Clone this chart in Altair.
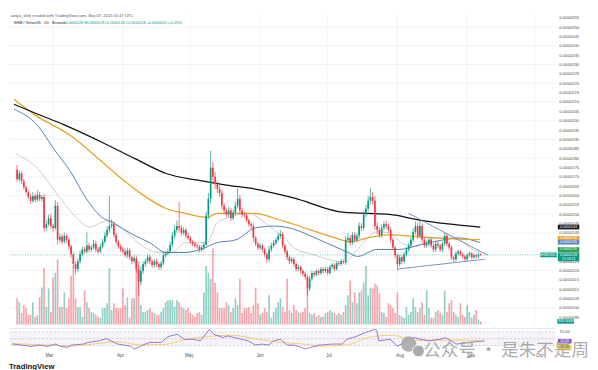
import altair as alt
import pandas as pd

FONT = "Liberation Sans"
UP = "#089981"
DOWN = "#f23645"
W, H, RH = 560, 319, 21

# ---------------- data (price in units of 1e-7 USDT, day = days since 2025-03-01) ----------
START_DAY = -16
first_open = 173.9
closes = [
    168.7, 171.8, 167.7, 164.5, 161.9, 159.3, 157.2, 159.8, 157.8, 160.4,
    158.3, 159.3, 142.7, 144.7, 147.9, 143.7, 142.7, 154.6, 136.4, 138.0,
    135.4, 138.5, 136.4, 132.8, 128.6, 123.4, 120.8, 124.9, 128.6, 131.2,
    130.2, 133.3, 131.2, 132.3, 134.3, 131.2, 130.2, 132.8, 135.4, 138.5,
    141.6, 143.7, 144.7, 139.0, 135.4, 132.8, 131.2, 130.2, 128.1, 130.7,
    127.0, 124.9, 126.5, 120.8, 114.0, 119.7, 123.4, 124.9, 127.0, 124.9,
    122.9, 124.9, 123.4, 121.8, 123.9, 128.1, 129.1, 130.2, 133.8, 138.5,
    141.6, 143.7, 142.7, 140.1, 141.6, 138.5, 137.4, 135.4, 134.3, 133.3,
    132.8, 131.2, 132.3, 133.8, 149.4, 158.3, 174.9, 170.0, 166.0, 163.5,
    161.4, 154.6, 152.0, 149.9, 152.0, 147.9, 151.0, 154.6, 158.3, 152.0,
    149.9, 149.4, 146.8, 144.7, 143.7, 137.4, 134.3, 132.3, 133.3, 131.2,
    128.6, 126.0, 131.2, 133.3, 134.8, 136.4, 138.5, 139.5, 133.3, 130.2,
    127.0, 124.9, 126.0, 123.4, 120.8, 121.8, 119.7, 118.2, 116.6, 110.4,
    115.6, 118.7, 117.7, 119.7, 118.7, 120.8, 119.7, 120.8, 118.7, 121.8,
    122.9, 120.8, 123.9, 123.4, 124.9, 124.4, 136.4, 137.4, 134.8, 139.0,
    136.4, 138.5, 143.7, 142.7, 149.9, 153.1, 157.2, 159.3, 157.2, 143.7,
    141.6, 139.0, 142.7, 144.7, 143.7, 141.6, 136.4, 132.3, 128.1, 123.4,
    127.0, 124.9, 128.6, 131.2, 133.3, 136.4, 140.6, 143.7, 138.5, 143.7,
    136.4, 133.3, 134.3, 136.4, 133.3, 131.2, 134.3, 133.3, 131.2, 134.3,
    138.5, 134.3, 132.3, 127.0, 126.0, 129.1, 130.2, 128.6, 127.5, 126.0,
    128.1, 129.1, 127.0, 128.1, 127.5, 128.6, 128.3,
]
upper_wick = [
    2.5, 1.5, 1.0, 1.2, 0.8, 1.0, 1.5, 2.0, 1.2, 2.5,
    1.5, 1.0, 1.5, 2.0, 1.8, 2.5, 1.2, 3.0, 2.0, 1.5,
    1.5, 1.8, 1.2, 1.0, 1.0, 1.2, 1.5, 1.5, 2.0, 1.5,
    1.5, 7.0, 1.5, 1.2, 2.0, 1.5, 1.2, 1.5, 1.5, 1.8,
    2.0, 16.0, 2.5, 1.5, 1.2, 1.0, 1.2, 1.5, 1.5, 1.5,
    1.2, 1.0, 1.5, 1.5, 2.0, 2.5, 1.5, 1.5, 1.5, 1.2,
    1.0, 1.2, 1.5, 1.0, 1.2, 1.5, 1.2, 1.5, 1.5, 2.0,
    2.5, 3.0, 13.0, 1.5, 1.5, 1.2, 1.5, 1.0, 1.0, 1.2,
    1.0, 1.0, 1.2, 1.5, 2.0, 3.0, 9.0, 3.0, 2.5, 2.0,
    2.0, 1.5, 1.5, 1.2, 2.0, 1.5, 1.5, 2.0, 5.5, 2.0,
    1.5, 1.2, 1.2, 1.0, 1.2, 1.5, 1.0, 1.0, 1.2, 1.0,
    1.0, 1.2, 2.0, 1.5, 1.5, 1.2, 1.5, 2.0, 1.2, 1.0,
    1.0, 1.0, 1.2, 1.0, 1.0, 1.2, 1.0, 1.0, 1.2, 1.5,
    1.5, 1.2, 1.0, 1.0, 1.2, 1.0, 1.0, 1.2, 1.0, 1.0,
    1.2, 1.0, 1.0, 1.0, 1.2, 1.0, 2.0, 2.5, 1.5, 1.5,
    1.5, 1.5, 2.0, 1.5, 2.0, 2.0, 2.5, 4.5, 2.5, 2.5,
    2.0, 1.5, 2.0, 1.5, 2.0, 1.5, 1.5, 1.2, 1.0, 1.0,
    1.5, 1.2, 1.2, 1.5, 1.5, 1.5, 2.0, 2.5, 2.0, 2.5,
    1.5, 1.2, 1.5, 1.2, 1.5, 1.2, 1.5, 1.2, 1.0, 1.2,
    1.6, 1.5, 1.2, 1.0, 1.0, 1.2, 1.0, 1.0, 1.0, 1.0,
    1.0, 1.0, 0.8, 1.0, 0.8, 0.8, 0.6,
]
lower_wick = [
    1.5, 1.2, 1.5, 1.2, 1.0, 1.2, 1.5, 1.0, 1.5, 1.0,
    1.2, 1.5, 2.0, 1.5, 1.2, 1.5, 2.0, 1.0, 2.5, 1.5,
    1.5, 1.2, 1.5, 1.5, 2.0, 2.0, 3.0, 1.5, 1.2, 1.0,
    1.2, 1.0, 1.5, 1.0, 1.2, 1.5, 1.2, 1.0, 1.0, 1.0,
    1.0, 1.5, 1.2, 1.5, 1.5, 1.2, 1.2, 1.5, 1.2, 1.5,
    1.5, 1.5, 1.2, 2.0, 7.3, 2.0, 1.5, 1.5, 1.2, 1.5,
    1.5, 1.2, 1.5, 1.5, 1.2, 1.0, 1.2, 1.0, 1.0, 1.2,
    1.5, 1.5, 2.0, 1.5, 1.2, 1.5, 1.2, 1.2, 1.5, 1.2,
    1.2, 1.5, 1.2, 1.5, 1.0, 2.0, 2.5, 3.0, 2.5, 2.0,
    2.0, 2.0, 1.5, 1.5, 1.5, 1.5, 1.2, 1.5, 1.5, 2.0,
    1.5, 1.5, 1.2, 1.2, 1.5, 2.0, 1.5, 1.5, 1.2, 1.5,
    1.5, 2.0, 1.2, 1.2, 1.0, 1.2, 1.2, 1.5, 1.5, 1.5,
    1.5, 1.5, 1.2, 1.5, 1.5, 1.2, 1.5, 1.5, 1.5, 3.6,
    1.5, 1.2, 1.2, 1.0, 1.2, 1.0, 1.2, 1.0, 1.2, 1.0,
    1.0, 1.2, 1.0, 1.0, 1.0, 1.0, 1.5, 1.5, 1.5, 1.2,
    1.5, 1.2, 1.5, 1.5, 1.2, 1.5, 1.5, 2.0, 2.0, 2.0,
    2.0, 1.5, 1.5, 1.2, 1.5, 1.5, 1.5, 1.5, 1.5, 3.6,
    1.5, 1.5, 1.2, 1.2, 1.2, 1.0, 1.2, 1.5, 1.5, 1.5,
    1.5, 1.2, 1.2, 1.5, 1.2, 1.5, 1.2, 1.2, 1.2, 1.2,
    1.2, 1.5, 1.5, 1.5, 1.5, 1.2, 1.2, 1.0, 1.0, 1.2,
    1.0, 1.0, 1.0, 0.8, 1.0, 0.8, 0.6,
]
# volume in trillions of SHIB
volume_t = [
    2.7, 2.3, 1.2, 2.0, 1.7, 1.0, 1.0, 2.3, 0.8, 1.0,
    2.8, 3.8, 5.8, 1.8, 3.7, 1.3, 4.8, 5.3, 6.7, 1.8,
    1.8, 3.3, 1.7, 2.7, 5.0, 6.0, 2.7, 1.8, 1.8, 0.8,
    3.5, 2.3, 1.7, 1.3, 1.2, 1.0, 0.8, 0.7, 1.7, 1.7,
    2.2, 5.8, 1.5, 2.2, 1.7, 1.7, 1.7, 3.7, 2.0, 2.8,
    0.7, 2.7, 2.7, 6.5, 6.5, 2.0, 1.3, 1.3, 1.5, 1.7,
    1.3, 1.2, 1.0, 1.0, 1.3, 1.7, 2.3, 2.5, 2.5, 2.5,
    1.8, 2.5, 2.3, 1.8, 1.7, 1.5, 1.7, 1.2, 1.0, 0.8,
    1.2, 1.3, 1.0, 3.3, 6.0, 5.3, 4.7, 7.8, 4.3, 3.3,
    1.7, 1.7, 1.7, 2.3, 2.0, 1.3, 1.7, 2.7, 2.0, 4.7,
    1.2, 1.7, 1.7, 1.8, 1.2, 2.0, 3.8, 2.2, 1.0, 1.2,
    1.7, 1.3, 3.0, 0.7, 1.3, 1.7, 2.3, 2.7, 1.8, 1.3,
    4.7, 1.5, 1.2,
    2.0, 1.5, 1.3, 1.2, 1.3, 1.7, 3.7, 1.2, 1.0, 1.2,
    0.8, 1.0, 0.8, 0.8, 1.2, 1.3, 1.5, 1.3, 1.2, 1.0,
    1.2, 1.0, 1.3, 2.0, 3.0, 4.5, 2.3, 3.3, 2.2, 3.3,
    3.5, 4.3, 6.0, 3.0, 3.8, 3.7, 4.2, 4.0, 3.2, 1.3,
    1.2, 0.8, 2.2, 2.0, 1.7, 1.2, 3.3, 1.0, 0.8, 0.7,
    1.8, 1.0, 1.3, 2.7, 1.8, 1.3, 1.7, 2.3, 1.0, 3.5,
    1.7, 0.7, 0.7, 1.3, 1.5, 1.2, 1.0, 3.5, 1.3, 2.2,
    2.5, 1.3, 1.0, 0.8, 2.2, 1.0, 0.8, 2.0, 1.3, 0.7,
    1.0, 1.5, 0.5, 0.3339,
]

# moving averages (control points)
ma200_d = [-17.4, -8.1, 4.7, 21.7, 36.6, 50.2, 64.3, 77.0, 89.8, 106.8, 129.4, 149.4, 163.4, 189.8]
ma200_p = [208.8, 204.1, 197.9, 188.5, 179.6, 171.8, 168.2, 165.6, 163.5, 158.8, 151.0, 149.9, 146.8, 143.2]
ma100_d = [-17.4, -8.1, 7.7, 21.7, 30.2, 38.7, 50.2, 58.7, 68.5, 72.8, 81.3, 89.8, 98.3, 106.8,
           128.1, 131.1, 142.1, 149.4, 163.4, 177.9, 189.8]
ma100_p = [211.4, 203.1, 192.1, 178.1, 169.2, 161.4, 153.1, 150.5, 148.4, 150.5, 150.5, 150.5, 147.9, 144.7,
           136.4, 135.4, 138.0, 139.0, 138.0, 136.9, 136.5]
ma50_d = [-17.4, -6.8, 0.4, 7.7, 14.5, 21.7, 26.0, 35.7, 43.0, 50.2, 58.7, 65.5, 72.8, 81.3, 89.8,
          98.3, 106.8, 115.3, 131.1, 135.3, 143.8, 153.6, 163.4, 173.6, 180.4, 189.8]
ma50_p = [206.2, 197.3, 184.8, 172.9, 158.8, 148.4, 145.8, 139.0, 134.8, 129.6, 129.6, 131.2, 134.8, 136.4, 142.7,
          143.7, 142.1, 138.0, 129.6, 127.5, 131.2, 131.2, 133.8, 136.4, 137.4, 134.8]
ma20_d = [-16.6, -6.8, 1.7, 10.2, 16.2, 24.7, 31.5, 40.0, 47.2, 52.8, 58.7, 68.5, 72.8, 78.3, 86.8, 92.8,
          98.3, 103.8, 106.8, 115.3, 129.4, 135.3, 143.8, 149.4, 154.9, 160.9, 167.7, 174.9, 180.4, 186.4, 189.8]
ma20_p = [182.2, 174.4, 160.9, 148.4, 143.2, 146.8, 141.6, 132.8, 129.6, 129.6, 134.8, 134.8, 145.3, 148.4, 150.5, 146.8,
          141.6, 136.4, 132.2, 128.6, 124.4, 131.2, 140.6, 140.1, 134.8, 132.8, 136.4, 138.0, 136.4, 131.2, 129.6]

# drawn triangle
tl_upper_d = [157.9, 193.2]
tl_upper_p = [150.5, 128.1]
tl_lower_d = [153.2, 191.9]
tl_lower_p = [120.8, 126.0]

# RSI pane
rsi_d = [-16, -12, -8, -4, -1, 3, 5, 8, 10, 15, 17, 22, 25, 27, 30, 33, 36, 37, 39, 42, 44, 49, 52, 56, 59,
         63, 66, 68, 70, 72, 76, 78, 81, 84, 87, 90, 93, 96, 98, 101, 104, 107, 112, 118, 124, 128, 130, 134,
         138, 142, 143, 144, 149, 152, 155, 159, 162, 166, 171, 173, 178, 183, 190]
rsi_v = [34.3, 31.4, 27.6, 31.4, 27.6, 34.3, 27.6, 24.8, 31.4, 34.3, 39.0, 43.8, 50.5, 43.8, 34.3, 31.4, 27.6,
         20.0, 24.8, 34.3, 39.0, 39.0, 56.2, 62.9, 48.6, 48.6, 43.8, 60.0, 77.1, 62.9, 53.3, 58.1, 53.3, 48.6,
         43.8, 31.4, 34.3, 31.4, 43.8, 48.6, 31.4, 31.4, 20.0, 31.4, 34.3, 34.3, 48.6, 56.2, 67.6, 77.1, 75.0,
         43.8, 48.6, 27.6, 39.0, 53.3, 48.6, 43.8, 48.6, 53.3, 34.3, 39.0, 43.8]
rsi_ma_d = [-16, 0, 10, 20, 30, 40, 50, 60, 70, 80, 90, 100, 110, 120, 130, 140, 150, 160, 170, 180, 190]
rsi_ma_v = [36, 31, 29, 35, 41, 32, 33, 48, 57, 60, 50, 40, 35, 28, 32, 55, 60, 45, 46, 46, 42]

month_days = [0, 31, 61, 92, 122, 153, 184, 214]
month_names = ["Mar", "Apr", "May", "Jun", "Jul", "Aug", "Sep", "Oct"]
price_ticks = list(range(95, 256, 5))
grid_ticks = list(range(100, 251, 10))

header1 = "antyu_shib created with TradingView.com, Sep 07, 2025 10:47 UTC"
header2a = "SHIB / TetherUS \u00b7 1D \u00b7 Binance"
header2b = "O0.0000128  H0.0000129  L0.0000126  C0.0000128  +0.0000001 (+0.55%)"

# ---------------- frame ----------------
n = len(closes)
days = list(range(START_DAY, START_DAY + n))
opens = [first_open] + closes[:-1]
df = pd.DataFrame({
    "d": days,
    "open": opens,
    "close": closes,
    "high": [max(o, c) + u for o, c, u in zip(opens, closes, upper_wick)],
    "low": [min(o, c) - l for o, c, l in zip(opens, closes, lower_wick)],
    "vol": volume_t,
})
df["dir"] = ["up" if c >= o else "down" for o, c in zip(opens, closes)]

xs = alt.Scale(domain=[-17.44, 220.81], nice=False, zero=False)
ps = alt.Scale(domain=[91.1, 257.2], nice=False, zero=False)
vs = alt.Scale(domain=[0, 31.9], nice=False, zero=False)
rs = alt.Scale(domain=[20, 80], nice=False, zero=False)

X_none = alt.X("d:Q", scale=xs, axis=None)
color_dir = alt.Color("dir:N", scale=alt.Scale(domain=["up", "down"], range=[UP, DOWN]), legend=None)

price_axis = alt.Axis(orient="right", values=price_ticks,
                      labelExpr="format(datum.value / 1e7, '.7f')",
                      labelFont=FONT, labelFontSize=4.3, labelColor="#4a4d57", labelPadding=4,
                      ticks=False, domain=False, grid=False, title=None,
                      labelOverlap=False, labelFlush=False)


def box_shape(w, h=4.8):
    r = h / w
    return f"M-1,-{r:.3f}L1,-{r:.3f}L1,{r:.3f}L-1,{r:.3f}Z"


def tag(value, text, bg, xc, w, field, scale, fg="white"):
    d = pd.DataFrame({field: [value], "t": [text]})
    y = alt.Y(f"{field}:Q", scale=scale, axis=None)
    box = alt.Chart(d).mark_point(shape=box_shape(w), size=w * w, filled=True, color=bg,
                                  opacity=1, strokeWidth=0).encode(x=alt.value(xc), y=y)
    txt = alt.Chart(d).mark_text(font=FONT, fontSize=3.7, color=fg, align="center",
                                 baseline="middle").encode(x=alt.value(xc), y=y, text="t:N")
    return box + txt


def vtag(text, bg, xc, yc, w, fg="white"):
    d = pd.DataFrame({"t": [text]})
    box = alt.Chart(d).mark_point(shape=box_shape(w), size=w * w, filled=True, color=bg,
                                  opacity=1, strokeWidth=0).encode(x=alt.value(xc), y=alt.value(yc))
    txt = alt.Chart(d).mark_text(font=FONT, fontSize=3.7, color=fg, align="center",
                                 baseline="middle").encode(x=alt.value(xc), y=alt.value(yc), text="t:N")
    return box + txt


def pfmt(p):
    return f"{p / 1e7:.7f}"


# ---------------- main pane ----------------
hgrid = alt.Chart(pd.DataFrame({"p": grid_ticks})).mark_rule(color="#e9ecf2", strokeWidth=0.7).encode(
    y=alt.Y("p:Q", scale=ps, axis=price_axis))
vgrid = alt.Chart(pd.DataFrame({"d": month_days})).mark_rule(color="#eef0f4", strokeWidth=0.7).encode(x=X_none)
grid_layer = alt.layer(hgrid, vgrid)

vol_bars = alt.Chart(df).mark_bar(size=1.7, opacity=0.45).encode(
    x=X_none, y=alt.Y("vol:Q", scale=vs, axis=None), color=color_dir)
vol_tag = tag(volume_t[-1], f"{volume_t[-1] * 1000:.3f}B", UP, 571, 17, "vol", vs)
vol_layer = alt.layer(vol_bars, vol_tag)


def ma_line(ds, pvals, color, width):
    return alt.Chart(pd.DataFrame({"d": ds, "p": pvals})).mark_line(
        color=color, strokeWidth=width, interpolate="monotone").encode(
        x=X_none, y=alt.Y("p:Q", scale=ps, axis=None))


def seg(ds, pvals, color, width):
    return alt.Chart(pd.DataFrame({"d": ds, "p": pvals})).mark_line(
        color=color, strokeWidth=width).encode(x=X_none, y=alt.Y("p:Q", scale=ps, axis=None))


ma20 = ma_line(ma20_d, ma20_p, "#b8b8b8", 0.7)
ma50 = ma_line(ma50_d, ma50_p, "#4f7fb8", 1.0)
ma100 = ma_line(ma100_d, ma100_p, "#e9a227", 1.3)
ma200 = ma_line(ma200_d, ma200_p, "#111111", 1.3)

wicks = alt.Chart(df).mark_rule(strokeWidth=0.7).encode(
    x=X_none, y=alt.Y("low:Q", scale=ps, axis=None), y2="high:Q", color=color_dir)
bodies = alt.Chart(df).mark_bar(size=1.7).encode(
    x=X_none, y=alt.Y("open:Q", scale=ps, axis=None), y2="close:Q", color=color_dir)

tl_up = seg(tl_upper_d, tl_upper_p, "#6a84b8", 0.9)
tl_lo = seg(tl_lower_d, tl_lower_p, "#6a84b8", 0.9)

last = closes[-1]
price_line = alt.Chart(pd.DataFrame({"p": [last]})).mark_rule(
    color=UP, strokeWidth=0.6, strokeDash=[1, 1.5]).encode(y=alt.Y("p:Q", scale=ps, axis=None))

hdr = pd.DataFrame({"t": [header1]})
h1 = alt.Chart(hdr).mark_text(font=FONT, fontSize=4.2, color="#555555", align="left",
                              baseline="middle").encode(x=alt.value(2), y=alt.value(3), text="t:N")
h2a = alt.Chart(pd.DataFrame({"t": [header2a]})).mark_text(
    font=FONT, fontSize=3.8, color="#131722", align="left", baseline="middle").encode(
    x=alt.value(5), y=alt.value(9.5), text="t:N")
h2b = alt.Chart(pd.DataFrame({"t": [header2b]})).mark_text(
    font=FONT, fontSize=3.8, color=UP, align="left", baseline="middle").encode(
    x=alt.value(55), y=alt.value(9.5), text="t:N")

XT = 574
tags = [
    tag(ma200_p[-1], pfmt(ma200_p[-1]), "#131722", XT, 22, "p", ps),
    tag(137.2, pfmt(ma100_p[-1]), "#eea12a", XT, 22, "p", ps),
    tag(135.1, pfmt(ma50_p[-1]), "#5a86c8", XT, 22, "p", ps),
    tag(131.2, pfmt(ma20_p[-1]), "#1f9d4c", XT, 22, "p", ps),
    tag(last, pfmt(last), UP, XT, 22, "p", ps),
    tag(126.2, "15:16:11", UP, XT, 22, "p", ps),
    tag(last, "SHIBUSDT", UP, 553.5, 17, "p", ps),
]

price_layer = alt.layer(ma20, ma50, ma100, ma200, wicks, bodies, tl_up, tl_lo, price_line,
                        h1, h2a, h2b, *tags)

main = alt.layer(grid_layer, vol_layer, price_layer).resolve_scale(y="independent").properties(
    width=W, height=H)

# ---------------- RSI pane ----------------
label_expr = "".join(f"datum.value == {d} ? '{m}' : " for d, m in zip(month_days, month_names)) + "''"
x_axis = alt.Axis(values=month_days, labelExpr=label_expr, labelFont=FONT, labelFontSize=4.6,
                  labelColor="#4a4d57", labelPadding=3.5, ticks=False, domain=False, grid=False,
                  title=None, labelFlush=False, labelOverlap=False, labelAlign="center")
rsi_axis = alt.Axis(orient="right", values=[70], labelExpr="format(datum.value, '.2f')", labelFont=FONT,
                    labelFontSize=4.3, labelColor="#4a4d57", labelPadding=4, ticks=False, domain=False,
                    grid=False, title=None, labelFlush=False)
X_r = alt.X("d:Q", scale=xs, axis=x_axis)

band = alt.Chart(pd.DataFrame({"lo": [30], "hi": [70]})).mark_rect(color="#7e57c2", opacity=0.08).encode(
    y=alt.Y("lo:Q", scale=rs, axis=rsi_axis), y2="hi:Q", x=alt.value(0), x2=alt.value(W))
levels = alt.Chart(pd.DataFrame({"v": [70, 50, 30]})).mark_rule(
    color="#a3a6af", strokeWidth=0.5, strokeDash=[2, 2]).encode(y=alt.Y("v:Q", scale=rs, axis=rsi_axis))
r_vgrid = alt.Chart(pd.DataFrame({"d": month_days})).mark_rule(color="#eef0f4", strokeWidth=0.7).encode(x=X_r)
rsi_ma = alt.Chart(pd.DataFrame({"d": rsi_ma_d, "v": rsi_ma_v})).mark_line(
    color="#f2c230", strokeWidth=0.7, interpolate="monotone").encode(
    x=X_r, y=alt.Y("v:Q", scale=rs, axis=rsi_axis))
rsi_line = alt.Chart(pd.DataFrame({"d": rsi_d, "v": rsi_v})).mark_line(
    color="#7e57c2", strokeWidth=0.8).encode(x=X_r, y=alt.Y("v:Q", scale=rs, axis=rsi_axis))
sep = alt.Chart(pd.DataFrame({"a": [0]})).mark_rule(color="#d1d4dc", strokeWidth=0.6).encode(y=alt.value(0))

rsi_tag = vtag(f"{rsi_v[-1]:.2f}", "#7e57c2", 570, 13, 14)
rsima_tag = vtag(f"{rsi_ma_v[-1]:.2f}", "#f5d33a", 570, 19, 14, fg="#131722")

icon = pd.DataFrame({"a": [0]})
ic1 = alt.Chart(icon).mark_point(shape="circle", size=250, filled=True, color="#a9a9a9", opacity=0.9,
                                 strokeWidth=0).encode(x=alt.value(410), y=alt.value(16))
ic2 = alt.Chart(icon).mark_point(shape="circle", size=150, filled=True, color="#a9a9a9", opacity=1,
                                 stroke="white", strokeWidth=1).encode(x=alt.value(420), y=alt.value(23))
wm = alt.Chart(pd.DataFrame({"t": ["\u516c\u4f17\u53f7 \u00b7 \u662f\u6731\u4e0d\u662f\u5468"]})).mark_text(
    font="Noto Sans CJK SC", fontSize=18, color="#9e9e9e", opacity=0.85, align="left",
    baseline="alphabetic").encode(x=alt.value(425), y=alt.value(28), text="t:N")
tv = alt.Chart(pd.DataFrame({"t": ["TradingView"]})).mark_text(
    font=FONT, fontSize=8, fontWeight="bold", color="#131722", align="left",
    baseline="alphabetic").encode(x=alt.value(0), y=alt.value(42), text="t:N")

rsi = alt.layer(band, levels, r_vgrid, rsi_ma, rsi_line, sep, rsi_tag, rsima_tag, ic1, ic2, wm, tv).properties(
    width=W, height=RH)

chart = alt.vconcat(main, rsi, spacing=2).properties(
    padding=0, background="white").configure_view(strokeWidth=0)

chart.save("out.html", embed_options={"renderer": "svg", "actions": False})
